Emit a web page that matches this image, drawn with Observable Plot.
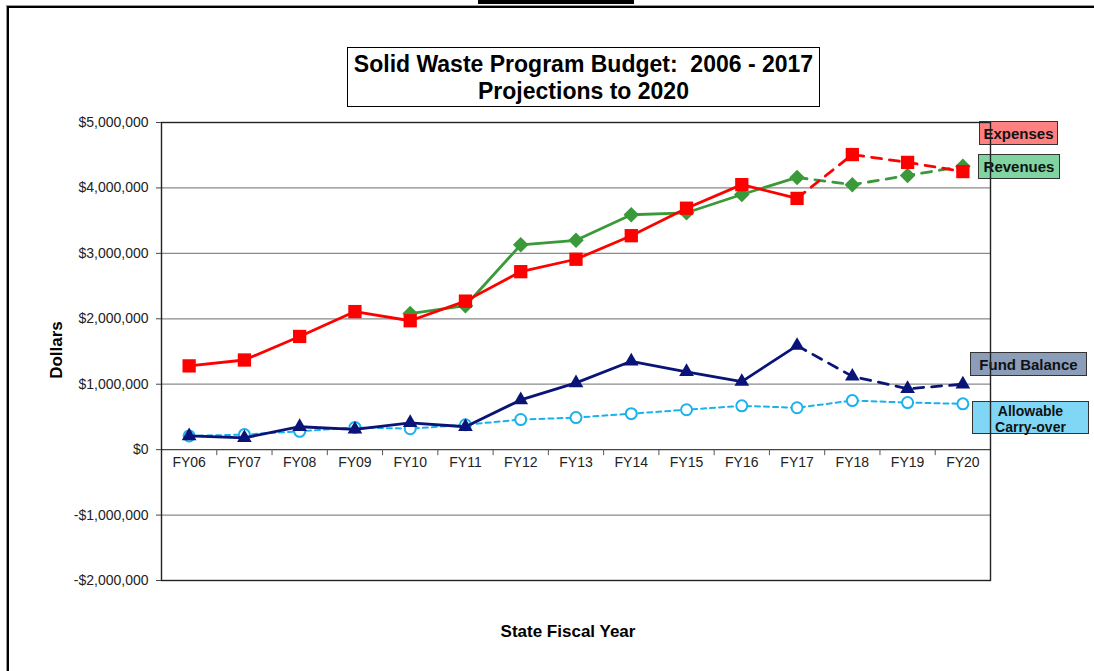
<!DOCTYPE html>
<html><head><meta charset="utf-8">
<script src="https://cdn.jsdelivr.net/npm/d3@7"></script>
<script src="https://cdn.jsdelivr.net/npm/@observablehq/plot@0.6"></script>
<style>
body{margin:0;background:#fff;font-family:"Liberation Sans",Arial,sans-serif;}
#wrap{position:relative;width:1094px;height:671px;overflow:hidden;}
.abs{position:absolute;}
#frame{left:7px;top:6px;width:1200px;height:800px;border-left:2px solid #000;border-top:2px solid #000;box-shadow:-1px -1px 0 #999;}
#bar{left:478px;top:0;width:156px;height:4px;background:#000;}
#title{left:347px;top:47px;width:471px;height:55px;border:1px solid #000;text-align:center;font-weight:bold;font-size:23px;line-height:27px;padding-top:3px;color:#000;white-space:nowrap;}
.lab{border:1px solid #333;font-weight:bold;font-size:15px;text-align:center;color:#111;box-sizing:border-box;white-space:nowrap;}
#chart{position:absolute;left:0;top:0;z-index:2;}
#chart svg{background:transparent !important;}
#ylab{left:57px;top:350px;transform:translate(-50%,-50%) rotate(-90deg);font-weight:bold;font-size:17px;z-index:3;}
#xlab{left:568px;top:632px;transform:translate(-50%,-50%);font-weight:bold;font-size:17px;z-index:3;white-space:nowrap;}
</style></head>
<body>
<div id="wrap">
  <div id="frame" class="abs"></div>
  <div id="bar" class="abs"></div>
  <div id="title" class="abs">Solid Waste Program Budget:&nbsp; 2006 - 2017<br>Projections to 2020</div>
  <div class="abs lab" style="left:979px;top:121px;width:79px;height:24px;line-height:23px;background:#FF8080;">Expenses</div>
  <div class="abs lab" style="left:978px;top:154px;width:82px;height:25px;line-height:24px;background:#80D4A2;">Revenues</div>
  <div class="abs lab" style="left:970px;top:352px;width:117px;height:24px;line-height:23px;background:#8C9DB9;">Fund Balance</div>
  <div class="abs lab" style="left:972px;top:401px;width:117px;height:33px;line-height:16px;font-size:14px;padding-top:1px;background:#80D7F5;">Allowable<br>Carry-over</div>
  <div id="chart"></div>
  <div id="ylab" class="abs">Dollars</div>
  <div id="xlab" class="abs">State Fiscal Year</div>
</div>
<script>
const categories = ["FY06","FY07","FY08","FY09","FY10","FY11","FY12","FY13","FY14","FY15","FY16","FY17","FY18","FY19","FY20"];
const expenses    = [1280000,1370000,1730000,2110000,1970000,2270000,2720000,2910000,3270000,3690000,4050000,3840000,4510000,4390000,4250000];
const revenues    = [null,null,null,null,2080000,2200000,3130000,3200000,3590000,3620000,3900000,4160000,4050000,4190000,4330000];
const fundBalance = [210000,180000,350000,310000,410000,350000,760000,1020000,1350000,1190000,1040000,1590000,1120000,930000,1000000];
const carryOver   = [210000,230000,280000,340000,320000,380000,460000,490000,550000,610000,670000,640000,750000,720000,700000];
const lastActual = 11; // FY17
const yTicks = [-2000000,-1000000,0,1000000,2000000,3000000,4000000,5000000];
const yTickLabels = ["-$2,000,000","-$1,000,000","$0","$1,000,000","$2,000,000","$3,000,000","$4,000,000","$5,000,000"];

const rows = (vals) => categories.map((c,i)=>({i, c, v: vals[i]})).filter(d => d.v != null);
const E = rows(expenses), R = rows(revenues), F = rows(fundBalance), C = rows(carryOver);
const act = a => a.filter(d => d.i <= lastActual);
const proj = a => a.filter(d => d.i >= lastActual);
const bounds = categories.slice(1).map((c,k)=>k+0.5);

const red="#FF0000", green="#3A9A3A", navy="#0A1478", cyan="#1AB2EC";

const chart = Plot.plot({
  width: 1094, height: 671,
  marginLeft: 161, marginRight: 104, marginTop: 122, marginBottom: 91,
  style: {fontFamily: '"Liberation Sans", Arial, sans-serif', fontSize: "14px", background: "transparent", color: "#222"},
  x: {type: "linear", domain: [-0.5, 14.5], axis: null},
  y: {domain: [-2000000, 5000000]},
  marks: [
    Plot.ruleY(yTicks.filter(v => v !== 0), {stroke: "#8a8a8a", strokeWidth: 1.2}),
    Plot.ruleY([0], {stroke: "#444", strokeWidth: 1.3}),
    Plot.frame({stroke: "#222", strokeWidth: 1.4}),
    Plot.axisY(yTicks, {tickSize: 5, tickPadding: 8, tickFormat: v => yTickLabels[yTicks.indexOf(v)], fontSize: 14, label: null, stroke: "#444"}),
    Plot.ruleX(bounds, {y1: 0, y2: 0, insetBottom: -6, stroke: "#555"}),
    Plot.text(categories, {x: (d,i) => i, y: 0, dy: 13, text: d => d, fontSize: 14, fill: "#222"}),
    // carry-over
    Plot.line(C, {x: "i", y: "v", stroke: cyan, strokeWidth: 2, strokeDasharray: "5,4"}),
    Plot.dot(C, {x: "i", y: "v", r: 5.5, stroke: cyan, strokeWidth: 2, fill: "white"}),
    // fund balance
    Plot.line(act(F), {x: "i", y: "v", stroke: navy, strokeWidth: 2.8}),
    Plot.line(proj(F), {x: "i", y: "v", stroke: navy, strokeWidth: 2.8, strokeDasharray: "10,8"}),
    Plot.dot(F, {x: "i", y: "v", symbol: "triangle2", r: 7, fill: navy}),
    // revenues
    Plot.line(act(R), {x: "i", y: "v", stroke: green, strokeWidth: 2.8}),
    Plot.line(proj(R), {x: "i", y: "v", stroke: green, strokeWidth: 2.8, strokeDasharray: "10,8"}),
    Plot.dot(R, {x: "i", y: "v", symbol: "diamond2", r: 7, fill: green}),
    // expenses
    Plot.line(act(E), {x: "i", y: "v", stroke: red, strokeWidth: 2.8}),
    Plot.line(proj(E), {x: "i", y: "v", stroke: red, strokeWidth: 2.8, strokeDasharray: "10,8"}),
    Plot.dot(E, {x: "i", y: "v", symbol: "square", r: 7.5, fill: red})
  ]
});
document.getElementById("chart").appendChild(chart);
</script>
</body></html>
